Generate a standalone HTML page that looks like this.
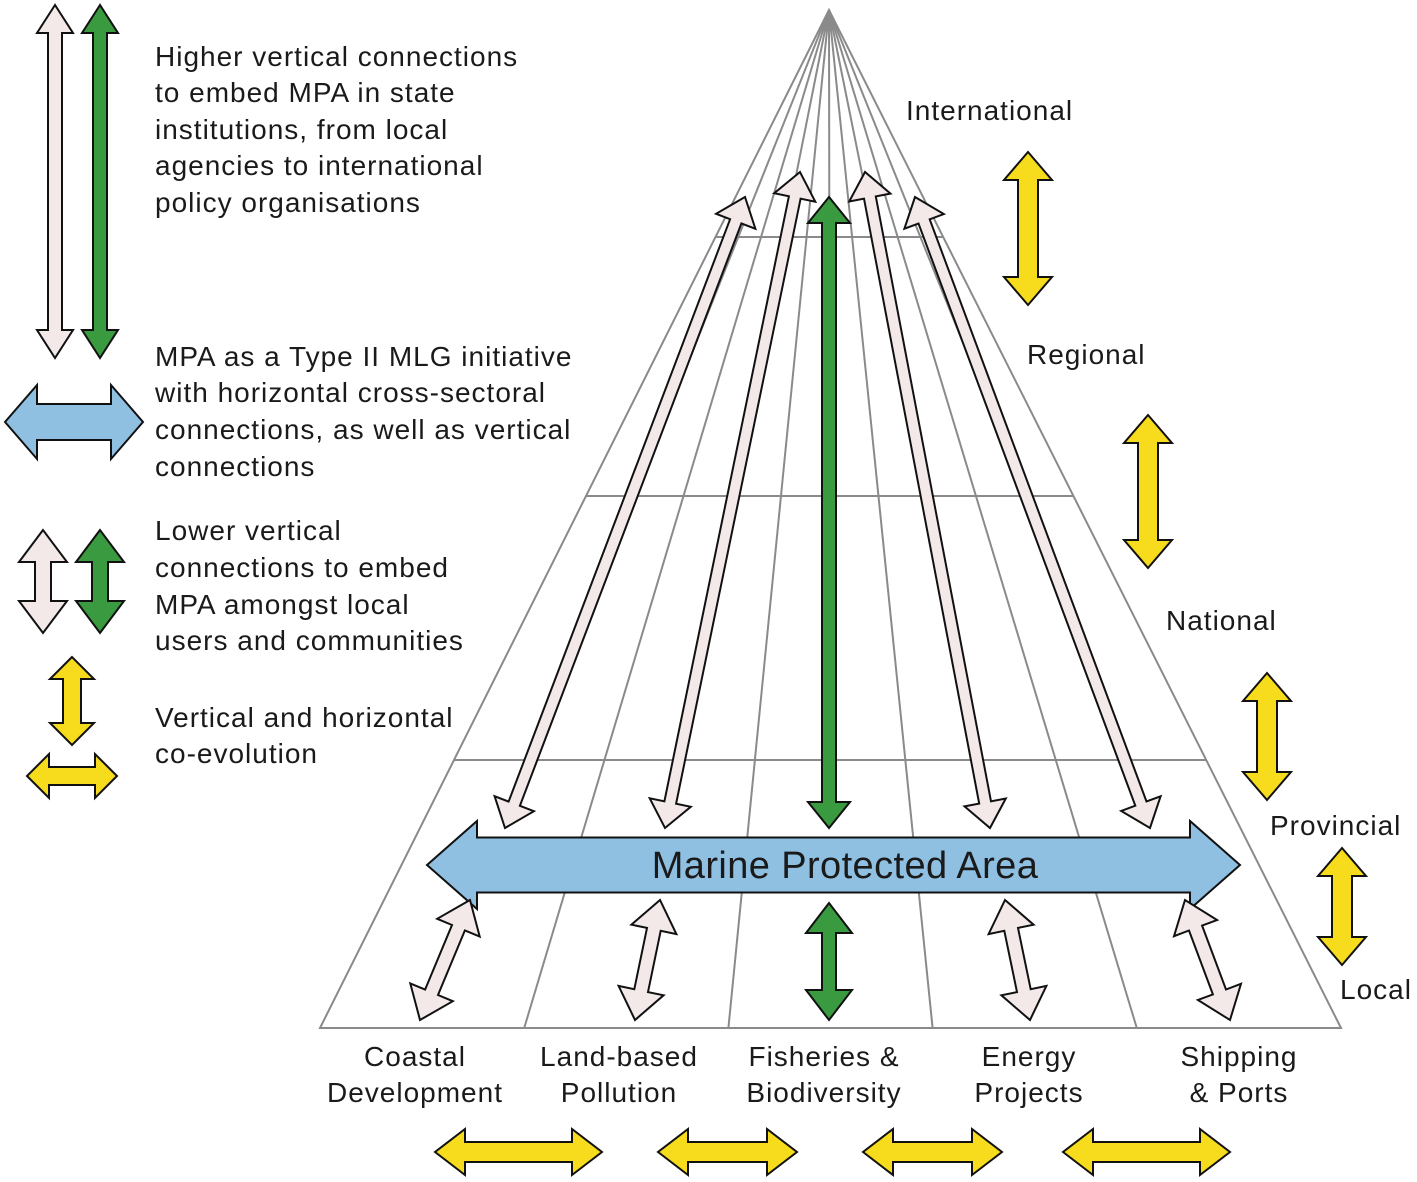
<!DOCTYPE html>
<html><head><meta charset="utf-8"><style>
html,body{margin:0;padding:0;background:#fff}
svg{display:block}
text{font-family:"Liberation Sans",Arial,sans-serif;fill:#1a1a1a}
</style></head><body>
<svg id="s" width="1417" height="1182" viewBox="0 0 1417 1182" xmlns="http://www.w3.org/2000/svg">
<g id="grid" stroke="#8a8a8a" stroke-width="2" fill="none"></g>
<g id="arr"></g>
<g font-size="28" letter-spacing="1">
<text x="155" y="66">Higher vertical connections</text>
<text x="155" y="102">to embed MPA in state</text>
<text x="155" y="139">institutions, from local</text>
<text x="155" y="175">agencies to international</text>
<text x="155" y="212">policy organisations</text>
<text x="155" y="366">MPA as a Type II MLG initiative</text>
<text x="155" y="402">with horizontal cross-sectoral</text>
<text x="155" y="439">connections, as well as vertical</text>
<text x="155" y="476">connections</text>
<text x="155" y="540">Lower vertical</text>
<text x="155" y="577">connections to embed</text>
<text x="155" y="614">MPA amongst local</text>
<text x="155" y="650">users and communities</text>
<text x="155" y="727">Vertical and horizontal</text>
<text x="155" y="763">co-evolution</text>
<text x="906" y="120">International</text>
<text x="1027" y="364">Regional</text>
<text x="1166" y="630">National</text>
<text x="1270" y="835">Provincial</text>
<text x="1340" y="999">Local</text>
<g text-anchor="middle">
<text x="415" y="1066">Coastal</text><text x="415" y="1102">Development</text>
<text x="619" y="1066">Land-based</text><text x="619" y="1102">Pollution</text>
<text x="824" y="1066">Fisheries &amp;</text><text x="824" y="1102">Biodiversity</text>
<text x="1029" y="1066">Energy</text><text x="1029" y="1102">Projects</text>
<text x="1239" y="1066">Shipping</text><text x="1239" y="1102">&amp; Ports</text>
</g>
</g>
<text id="mpa" x="845" y="878" font-size="38" letter-spacing="0.4" text-anchor="middle">Marine Protected Area</text>
</svg>
<script>
var NS="http://www.w3.org/2000/svg";
var g=document.getElementById('grid'),a=document.getElementById('arr');
function el(p,t,at){var e=document.createElementNS(NS,t);for(var k in at)e.setAttribute(k,at[k]);p.appendChild(e);return e;}
var AX=829,AY=10,BY=1028,L=320,R=1341;
function xAt(bx,y){return AX+(bx-AX)*(y-AY)/(BY-AY);}
el(g,'polygon',{points:AX+','+AY+' '+L+','+BY+' '+R+','+BY});
for(var i=1;i<10;i++){var bx=L+(R-L)*i/10;var y2=(i%2==0)?BY:760;el(g,'line',{x1:AX,y1:AY,x2:xAt(bx,y2),y2:y2});}
[237,496,760].forEach(function(y){el(g,'line',{x1:xAt(L,y),y1:y,x2:xAt(R,y),y2:y});});
function dbl(x1,y1,x2,y2,sw,hw,hl,fill){
var dx=x2-x1,dy=y2-y1,d=Math.hypot(dx,dy),ux=dx/d,uy=dy/d,nx=-uy,ny=ux;
function p(bx,by,t,s){return (bx+ux*t+nx*s).toFixed(1)+','+(by+uy*t+ny*s).toFixed(1);}
var pts=[p(x1,y1,0,0),p(x1,y1,hl,hw/2),p(x1,y1,hl,sw/2),p(x2,y2,-hl,sw/2),p(x2,y2,-hl,hw/2),p(x2,y2,0,0),p(x2,y2,-hl,-hw/2),p(x2,y2,-hl,-sw/2),p(x1,y1,hl,-sw/2),p(x1,y1,hl,-hw/2)];
el(a,'polygon',{points:pts.join(' '),fill:fill,stroke:'#111','stroke-width':2,'stroke-linejoin':'miter'});}
var P='#f3e9e9',G='#3a9a3f',Y='#f7dc1e',B='#8fc0e2';
dbl(55,5,55,358,14,36,28,P);dbl(100,5,100,358,14,36,28,G);
dbl(5,422,143,422,36,74,32,B);
dbl(43,530,43,633,16,48,32,P);dbl(100,530,100,633,16,48,32,G);
dbl(72,657,72,745,18,44,22,Y);dbl(27,776,117,776,18,44,22,Y);
dbl(427,865,1240,865,55,88,50,B);
dbl(745,197,505,828,12,42,26,P);dbl(800,172,665,828,12,42,26,P);
dbl(829,197,829,828,14,42,26,G);
dbl(865,172,990,828,12,42,26,P);dbl(915,197,1150,828,12,42,26,P);
dbl(470,900,420,1020,14,46,30,P);dbl(660,900,635,1020,14,46,30,P);
dbl(829,903,829,1020,14,46,30,G);
dbl(1005,900,1030,1020,14,46,30,P);dbl(1185,900,1230,1020,14,46,30,P);
dbl(1028,152,1028,305,20,48,28,Y);dbl(1148,415,1148,568,20,48,28,Y);
dbl(1267,673,1267,800,20,48,28,Y);dbl(1342,848,1342,965,20,48,28,Y);
dbl(435,1152,602,1152,20,46,30,Y);dbl(658,1152,797,1152,20,46,30,Y);
dbl(863,1152,1002,1152,20,46,30,Y);dbl(1063,1152,1230,1152,20,46,30,Y);
</script>
</body></html>
